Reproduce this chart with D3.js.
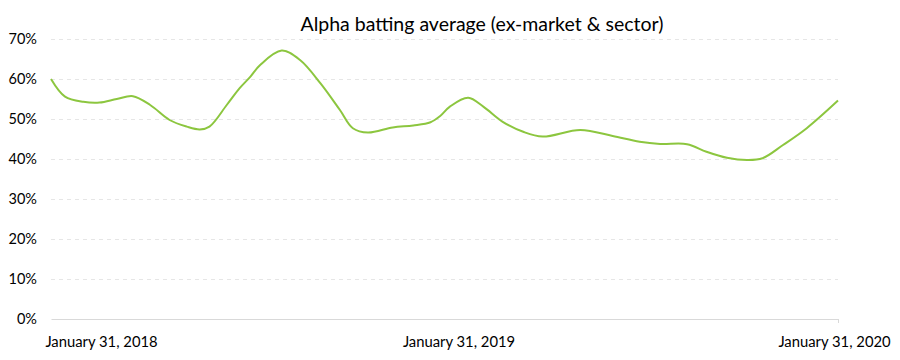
<!DOCTYPE html>
<html>
<head>
<meta charset="utf-8">
<script src="https://cdn.jsdelivr.net/npm/d3@7"></script>
<style>
  html, body { margin: 0; padding: 0; background: #ffffff; }
  svg { display: block; }
</style>
</head>
<body>
<svg id="chart" width="900" height="360"></svg>
<script>
const title = "Alpha batting average (ex-market & sector)";
const dates = [
  "2018-01-31","2018-02-13","2018-03-02","2018-03-17","2018-04-02","2018-04-17",
  "2018-05-03","2018-05-21","2018-06-06","2018-06-18","2018-06-27","2018-07-13",
  "2018-07-25","2018-08-04","2018-08-13","2018-09-02","2018-09-19","2018-10-08",
  "2018-10-26","2018-11-07","2018-11-21","2018-12-14","2019-01-02","2019-01-18",
  "2019-01-27","2019-02-05","2019-02-22","2019-03-08","2019-03-26","2019-04-14",
  "2019-05-02","2019-06-06","2019-07-06","2019-07-31","2019-08-19","2019-09-13",
  "2019-10-01","2019-10-20","2019-11-08","2019-11-22","2019-12-11","2020-01-02",
  "2020-01-31"
];
const values = [
  0.600, 0.556, 0.543, 0.541, 0.550, 0.557,
  0.535, 0.4975, 0.481, 0.474, 0.481, 0.535,
  0.577, 0.606, 0.635, 0.671, 0.6475, 0.589,
  0.5225, 0.477, 0.466, 0.479, 0.484, 0.492,
  0.5075, 0.531, 0.553, 0.531, 0.493, 0.468,
  0.456, 0.4725, 0.4575, 0.443, 0.4375, 0.437,
  0.418, 0.403, 0.3975, 0.402, 0.435, 0.477,
  0.546
];
const yTicks = [0, 0.1, 0.2, 0.3, 0.4, 0.5, 0.6, 0.7];
const xTickDates = ["2018-01-31", "2019-01-31", "2020-01-31"];
const xTickLabels = ["January 31, 2018", "January 31, 2019", "January 31, 2020"];

const parse = d3.timeParse("%Y-%m-%d");
const data = dates.map((d, i) => ({ date: parse(d), value: values[i] }));

const svg = d3.select("#chart");
const margin = { left: 51, right: 62, top: 39, bottom: 41 };
const W = 900, H = 360;

const x = d3.scaleTime()
  .domain([parse(dates[0]), parse(dates[dates.length - 1])])
  .range([margin.left, W - margin.right]);
const y = d3.scaleLinear()
  .domain([0, 0.7])
  .range([H - margin.bottom, margin.top]);

const font = "Lato, 'Open Sans', sans-serif";

// Title
svg.append("text")
  .attr("x", 482)
  .attr("y", 31)
  .attr("text-anchor", "middle")
  .attr("font-family", font)
  .attr("font-size", 19.5)
  .attr("fill", "#000")
  .text(title);

// Gridlines (dashed), excluding 0
svg.append("g")
  .selectAll("line")
  .data(yTicks.filter(t => t > 0))
  .join("line")
  .attr("x1", x.range()[0])
  .attr("x2", x.range()[1])
  .attr("y1", d => Math.round(y(d)) + 0.5)
  .attr("y2", d => Math.round(y(d)) + 0.5)
  .attr("stroke", "#e6e6e6")
  .attr("stroke-width", 1)
  .attr("stroke-dasharray", "4,4");

// Y axis labels
const yAxis = d3.axisLeft(y)
  .tickValues(yTicks)
  .tickFormat(d3.format(".0%"))
  .tickSize(0)
  .tickPadding(14);
const gy = svg.append("g")
  .attr("transform", `translate(${margin.left},0)`)
  .call(yAxis);
gy.select(".domain").remove();
gy.selectAll("text")
  .attr("font-family", font)
  .attr("font-size", 14.5)
  .attr("fill", "#000");

// X axis
const xAxis = d3.axisBottom(x)
  .tickValues(xTickDates.map(parse))
  .tickFormat((d, i) => xTickLabels[i])
  .tickSize(0)
  .tickPadding(17);
const gx = svg.append("g")
  .attr("transform", `translate(0,${y(0)})`)
  .call(xAxis);
gx.select(".domain")
  .attr("stroke", "#d9d9d9")
  .attr("stroke-width", 1);
const labelShift = [50, 14, -4];
gx.selectAll("text")
  .attr("font-family", font)
  .attr("font-size", 14.8)
  .attr("fill", "#000")
  .attr("dx", (d, i) => labelShift[i]);
// small tick at the right end of the axis
svg.append("line")
  .attr("x1", x.range()[1] + 0.5)
  .attr("x2", x.range()[1] + 0.5)
  .attr("y1", y(0))
  .attr("y2", y(0) + 4)
  .attr("stroke", "#d9d9d9");

// Line
const line = d3.line()
  .x(d => x(d.date))
  .y(d => y(d.value))
  .curve(d3.curveCatmullRom.alpha(0.5));
svg.append("path")
  .datum(data)
  .attr("fill", "none")
  .attr("stroke", "#8cc63f")
  .attr("stroke-width", 2)
  .attr("stroke-linejoin", "round")
  .attr("d", line);
</script>
</body>
</html>
